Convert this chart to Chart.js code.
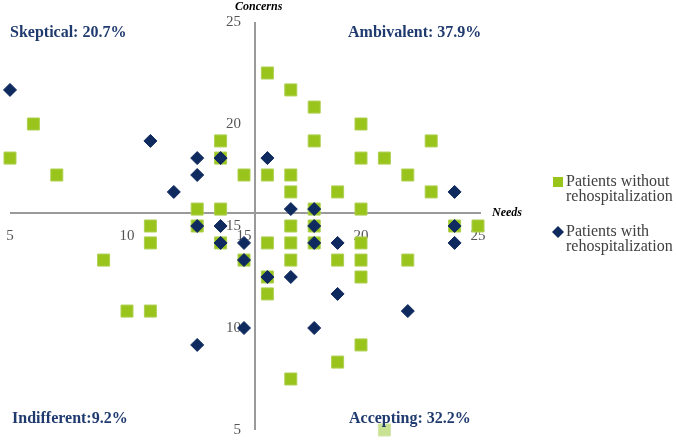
<!DOCTYPE html>
<html>
<head>
<meta charset="utf-8">
<script src="https://cdn.jsdelivr.net/npm/chart.js@4.4.1/dist/chart.umd.min.js"></script>
<style>
  body { margin: 0; background: #fff; }
  #wrap { width: 676px; height: 441px; position: relative; }
</style>
</head>
<body>
<div id="wrap"><canvas id="scatter"></canvas></div>
<script>
// Patients without rehospitalization (green squares)
const withoutNeeds = [6, 5, 7, 14, 14, 15, 13, 14, 16, 17, 18, 20, 18, 23, 20, 21, 16, 17, 22, 17, 19, 23, 18, 20,
  11, 13, 11, 14, 9, 15, 10, 11, 17, 18, 24, 25, 16, 17, 18, 20, 17, 19, 20, 22, 16, 20, 16, 20, 19, 17, 21];
const withoutConcerns = [20, 18.33, 17.5, 19.17, 18.33, 17.5, 15.83, 15.83, 22.5, 21.67, 20.83, 20, 19.17, 19.17, 18.33, 18.33,
  17.5, 17.5, 17.5, 16.67, 16.67, 16.67, 15.83, 15.83, 15, 15, 14.17, 14.17, 13.33, 13.33, 10.83, 10.83, 15, 15, 15, 15,
  14.17, 14.17, 14.17, 14.17, 13.33, 13.33, 13.33, 13.33, 12.5, 12.5, 11.67, 9.17, 8.33, 7.5, 5];

// Patients with rehospitalization (navy diamonds)
const withNeeds = [5, 11, 13, 14, 13, 12, 16, 24, 17, 18, 13, 14, 14, 15, 15, 15, 13, 18, 24, 18, 19, 24, 16, 17, 19, 22, 18];
const withConcerns = [21.67, 19.17, 18.33, 18.33, 17.5, 16.67, 18.33, 16.67, 15.83, 15.83, 15, 15, 14.17, 14.17, 13.33, 10,
  9.17, 15, 15, 14.17, 14.17, 14.17, 12.5, 12.5, 11.67, 10.83, 10];

const tickValues = [5, 10, 15, 20, 25];
const needsCross = 15.47;
const concernsCross = 15.64;

const quadrantLabels = ['Skeptical: 20.7%', 'Ambivalent: 37.9%', 'Indifferent:9.2%', 'Accepting: 32.2%'];
const seriesNames = [['Patients without', 'rehospitalization'], ['Patients with', 'rehospitalization']];

const green = '#99C41C';
const navy = '#0E2A5F';
const textNavy = '#1F3A6E';

function toPoints(xs, ys) {
  return xs.map((x, i) => ({ x: x, y: ys[i] }));
}

// axes crossing in the middle, tick labels, quadrant titles and legend
const quadrantPlugin = {
  id: 'quadrants',
  beforeDatasetsDraw(chart) {
    const ctx = chart.ctx;
    const xs = chart.scales.x;
    const ys = chart.scales.y;
    const x0 = xs.getPixelForValue(needsCross);
    const y0 = ys.getPixelForValue(concernsCross);

    ctx.save();
    ctx.strokeStyle = '#9a9a9a';
    ctx.lineWidth = 2;
    ctx.beginPath();
    ctx.moveTo(xs.getPixelForValue(5), y0);
    ctx.lineTo(xs.getPixelForValue(25) + 3, y0);
    ctx.moveTo(x0, ys.getPixelForValue(25));
    ctx.lineTo(x0, ys.getPixelForValue(5));
    ctx.stroke();

    ctx.fillStyle = '#555';
    ctx.font = '15px "Liberation Serif", serif';
    ctx.textBaseline = 'middle';
    ctx.textAlign = 'center';
    tickValues.forEach(v => {
      ctx.fillText(String(v), xs.getPixelForValue(v), y0 + 23);
    });
    ctx.textAlign = 'right';
    tickValues.forEach(v => {
      ctx.fillText(String(v), x0 - 14, ys.getPixelForValue(v));
    });

    ctx.fillStyle = '#000';
    ctx.font = 'italic bold 12px "Liberation Serif", serif';
    ctx.textAlign = 'left';
    ctx.fillText('Concerns', x0 - 20, 7);
    ctx.fillText('Needs', 492, y0);
    ctx.restore();
  },
  afterDraw(chart) {
    const ctx = chart.ctx;
    ctx.save();
    ctx.fillStyle = textNavy;
    ctx.font = 'bold 16px "Liberation Serif", serif';
    ctx.textBaseline = 'middle';
    ctx.textAlign = 'left';
    ctx.fillText(quadrantLabels[0], 10, 33);
    ctx.fillText(quadrantLabels[1], 348, 33);
    ctx.fillText(quadrantLabels[2], 12, 419);
    ctx.fillText(quadrantLabels[3], 349, 419);

    // legend
    ctx.font = '16px "Liberation Serif", serif';
    const tops = [182, 232];
    seriesNames.forEach((lines, i) => {
      const y = tops[i];
      if (i === 0) {
        ctx.fillStyle = green;
        ctx.fillRect(553, y - 5, 10, 10);
      } else {
        ctx.fillStyle = navy;
        ctx.beginPath();
        ctx.moveTo(558, y - 6);
        ctx.lineTo(564, y);
        ctx.lineTo(558, y + 6);
        ctx.lineTo(552, y);
        ctx.closePath();
        ctx.fill();
      }
      ctx.fillStyle = '#404040';
      ctx.fillText(lines[0], 566, y);
      ctx.fillText(lines[1], 566, y + 15);
    });
    ctx.restore();
  }
};

new Chart(document.getElementById('scatter'), {
  type: 'scatter',
  data: {
    datasets: [{
      label: 'Patients without rehospitalization',
      data: toPoints(withoutNeeds, withoutConcerns),
      pointStyle: 'rect',
      pointRadius: 8.5,
      pointHoverRadius: 8.5,
      backgroundColor: ctx => (ctx.raw && ctx.raw.y === 5 ? '#C8E192' : green),
      borderColor: ctx => (ctx.raw && ctx.raw.y === 5 ? '#D3E6A6' : '#AFD052'),
      borderWidth: 1,
      clip: false,
      order: 1
    }, {
      label: 'Patients with rehospitalization',
      data: toPoints(withNeeds, withConcerns),
      pointStyle: 'rectRot',
      pointRadius: 6.5,
      pointHoverRadius: 6.5,
      backgroundColor: navy,
      borderColor: navy,
      borderWidth: 1,
      clip: false,
      order: 0
    }]
  },
  options: {
    responsive: true,
    maintainAspectRatio: false,
    animation: false,
    layout: { padding: { left: 10, right: 198, top: 22, bottom: 11 } },
    scales: {
      x: { type: 'linear', min: 5, max: 25, display: false },
      y: { type: 'linear', min: 5, max: 25, display: false }
    },
    plugins: {
      legend: { display: false },
      tooltip: { enabled: false }
    }
  },
  plugins: [quadrantPlugin]
});
</script>
</body>
</html>
